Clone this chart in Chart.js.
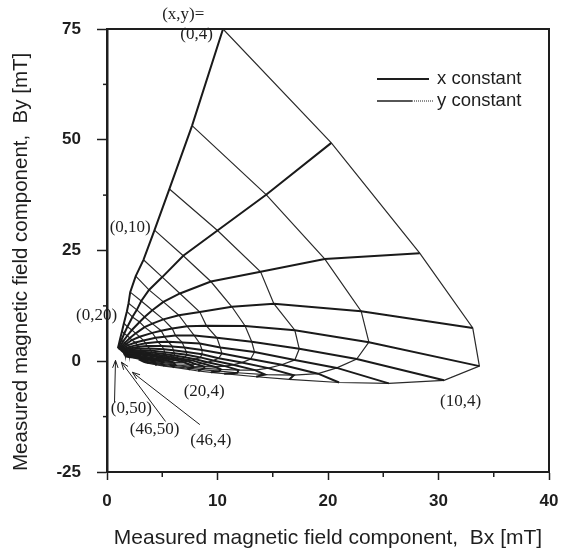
<!DOCTYPE html>
<html>
<head>
<meta charset="utf-8">
<script src="https://cdn.jsdelivr.net/npm/chart.js@4.4.1/dist/chart.umd.min.js"></script>
<style>
  html, body { margin: 0; padding: 0; background: #fff; }
  #contenedor { width: 561px; height: 556px; }
</style>
</head>
<body>
<div id="contenedor"><canvas id="grafica" width="561" height="556"></canvas></div>
<script>
// posiciones del iman (x, y): una linea gruesa por cada x, una fina por cada y
const posicionesX = [0, 2, 4, 6, 8, 10, 12, 14, 16, 18, 20, 22, 24, 26, 30, 34, 38, 42, 46];
const posicionesY = [4, 6, 8, 10, 12, 14, 16, 18, 20, 24, 28, 34, 42, 50];

// Bx y By medidos [mT] para cada y, en el orden de posicionesX
const bxY4  = [10.5, 20.3, 28.3, 33.1, 33.7, 30.5, 25.5, 21.0, 16.5, 13.5, 10.6, 9.4, 8.25, 7.5, 6.1, 5.2, 4.5, 3.95, 3.55];
const byY4  = [75.0, 49.3, 24.4, 7.5, -1.1, -4.3, -5.0, -4.8, -4.1, -3.5, -2.8, -2.5, -2.2, -1.9, -1.4, -1.08, -0.8, -0.55, -0.37];
const bxY6  = [7.7, 14.4, 19.7, 23.0, 23.7, 22.6, 20.8, 19.1, 16.9, 14.3, 11.8, 10.15, 8.5, 7.35, 6.0, 5.15, 4.45, 3.95, 3.55];
const byY6  = [53.2, 37.6, 23.1, 11.3, 4.3, 0.5, -1.5, -2.8, -3.15, -3.0, -2.6, -2.25, -1.9, -1.57, -1.2, -0.92, -0.67, -0.48, -0.32];
const bxY8  = [5.65, 10.0, 13.9, 15.1, 17.0, 17.4, 17.0, 15.8, 14.6, 13.4, 11.9, 10.3, 8.8, 7.8, 5.8, 5.0, 4.35, 3.8, 3.4];
const byY8  = [38.9, 29.5, 20.2, 13.0, 7.0, 2.8, 0.3, -0.8, -1.55, -2.0, -2.0, -1.85, -1.6, -1.4, -0.9, -0.72, -0.5, -0.34, -0.2];
const bxY10 = [4.3, 6.9, 9.4, 11.3, 12.5, 13.1, 13.35, 13.0, 12.2, 11.4, 10.7, 9.8, 8.8, 7.8, 6.2, 4.9, 4.2, 3.65, 3.3];
const byY10 = [29.6, 23.8, 18.0, 12.3, 7.95, 4.4, 2.1, 0.5, -0.3, -0.8, -1.1, -1.28, -1.2, -1.13, -0.85, -0.53, -0.35, -0.22, -0.1];
const bxY12 = [3.3, 5.0, 6.6, 8.4, 9.0, 9.95, 10.25, 10.4, 10.1, 9.6, 9.1, 8.6, 8.1, 7.4, 6.1, 5.0, 4.1, 3.5, 3.2];
const byY12 = [22.9, 19.0, 15.3, 11.1, 8.0, 5.3, 3.1, 1.74, 0.67, 0.15, -0.24, -0.48, -0.7, -0.68, -0.56, -0.38, -0.2, -0.04, 0.04];
const bxY14 = [2.6, 3.8, 5.1, 6.5, 7.25, 7.9, 8.4, 8.6, 8.6, 8.45, 8.0, 7.7, 7.3, 6.95, 6.05, 5.1, 4.3, 3.65, 3.1];
const byY14 = [19.2, 16.1, 13.4, 10.4, 7.9, 5.8, 4.0, 2.55, 1.6, 0.87, 0.47, 0.19, 0.0, -0.2, -0.3, -0.2, -0.1, 0.05, 0.17];
const bxY16 = [2.1, 3.1, 4.1, 5.1, 5.9, 6.2, 6.8, 7.0, 7.2, 7.2, 7.05, 6.75, 6.5, 6.2, 5.7, 4.95, 4.25, 3.65, 3.2];
const byY16 = [15.6, 13.6, 11.5, 9.45, 7.4, 5.8, 4.26, 3.1, 2.07, 1.45, 0.9, 0.58, 0.4, 0.2, 0.0, -0.04, 0.03, 0.12, 0.2];
const bxY18 = [1.95, 2.7, 3.4, 4.1, 4.9, 5.2, 5.55, 5.9, 6.0, 6.1, 6.1, 6.0, 5.75, 5.55, 5.15, 4.7, 4.2, 3.65, 3.2];
const byY18 = [13.1, 11.6, 10.0, 8.5, 6.9, 5.55, 4.4, 3.35, 2.5, 1.8, 1.3, 0.91, 0.68, 0.53, 0.27, 0.13, 0.14, 0.2, 0.27];
const bxY20 = [1.8, 2.3, 2.95, 3.4, 4.1, 4.4, 4.6, 4.95, 5.15, 5.2, 5.3, 5.25, 5.2, 5.0, 4.7, 4.4, 4.0, 3.6, 3.2];
const byY20 = [11.25, 10.0, 8.85, 7.7, 6.4, 5.3, 4.35, 3.47, 2.73, 2.06, 1.6, 1.24, 0.92, 0.74, 0.49, 0.34, 0.27, 0.28, 0.33];
const bxY24 = [1.53, 1.85, 2.25, 2.6, 2.95, 3.3, 3.5, 3.6, 3.85, 3.95, 4.05, 4.1, 4.1, 4.1, 3.9, 3.75, 3.5, 3.3, 3.05];
const byY24 = [8.57, 7.8, 7.05, 6.3, 5.54, 4.7, 4.05, 3.47, 2.9, 2.42, 2.0, 1.61, 1.37, 1.15, 0.83, 0.67, 0.55, 0.46, 0.46];
const bxY28 = [1.36, 1.56, 1.83, 2.07, 2.25, 2.56, 2.76, 2.87, 2.93, 3.1, 3.2, 3.25, 3.28, 3.3, 3.3, 3.2, 3.06, 2.93, 2.8];
const byY28 = [6.77, 6.26, 5.76, 5.25, 4.79, 4.22, 3.7, 3.28, 2.88, 2.51, 2.17, 1.88, 1.6, 1.39, 1.09, 0.88, 0.77, 0.68, 0.62];
const bxY34 = [1.19, 1.31, 1.46, 1.63, 1.75, 1.88, 2.05, 2.17, 2.25, 2.3, 2.36, 2.45, 2.5, 2.55, 2.57, 2.58, 2.54, 2.46, 2.38];
const byY34 = [5.08, 4.77, 4.48, 4.17, 3.88, 3.6, 3.24, 2.94, 2.68, 2.45, 2.22, 2.0, 1.8, 1.64, 1.33, 1.13, 0.97, 0.88, 0.83];
const bxY42 = [1.07, 1.13, 1.22, 1.31, 1.39, 1.46, 1.53, 1.63, 1.71, 1.76, 1.8, 1.82, 1.86, 1.92, 1.97, 2.0, 2.02, 2.02, 1.99];
const byY42 = [3.79, 3.61, 3.45, 3.28, 3.1, 2.94, 2.78, 2.59, 2.4, 2.24, 2.11, 1.97, 1.85, 1.72, 1.51, 1.31, 1.17, 1.07, 0.98];
const bxY50 = [0.99, 1.03, 1.08, 1.14, 1.19, 1.24, 1.28, 1.32, 1.38, 1.44, 1.47, 1.5, 1.52, 1.53, 1.58, 1.63, 1.65, 1.66, 1.66];
const byY50 = [2.99, 2.89, 2.78, 2.68, 2.57, 2.48, 2.38, 2.28, 2.16, 2.04, 1.95, 1.85, 1.77, 1.69, 1.54, 1.4, 1.28, 1.17, 1.1];

const filasBx = [bxY4, bxY6, bxY8, bxY10, bxY12, bxY14, bxY16, bxY18, bxY20, bxY24, bxY28, bxY34, bxY42, bxY50];
const filasBy = [byY4, byY6, byY8, byY10, byY12, byY14, byY16, byY18, byY20, byY24, byY28, byY34, byY42, byY50];

// etiquetas de los ejes
const ticksX = [0, 10, 20, 30, 40];
const ticksY = [-25, 0, 25, 50, 75];

// notas sobre la grafica (en mT)
const notas = [
  { texto: '(x,y)=', bx: 6.9, by: 78.3 },
  { texto: '(0,4)', bx: 8.1, by: 73.8 },
  { texto: '(0,10)', bx: 2.1, by: 30.1 },
  { texto: '(0,20)', bx: -0.95, by: 10.4 },
  { texto: '(0,50)', bx: 2.2, by: -10.6 },
  { texto: '(46,50)', bx: 4.3, by: -15.4 },
  { texto: '(46,4)', bx: 9.4, by: -17.9 },
  { texto: '(20,4)', bx: 8.8, by: -6.8 },
  { texto: '(10,4)', bx: 32.0, by: -9.0 }
];
const flechas = [
  { desde: [0.68, -9.3], hasta: [0.77, 0.2] },
  { desde: [5.3, -13.6], hasta: [1.3, -0.2] },
  { desde: [8.4, -14.3], hasta: [2.3, -2.5] }
];

const negro = '#1e1e1e';
const datasets = [];

// lineas con x constante (gruesas)
posicionesX.forEach((x, i) => {
  datasets.push({
    label: 'x=' + x,
    data: posicionesY.map((y, j) => ({ x: filasBx[j][i], y: filasBy[j][i] })),
    showLine: true,
    borderColor: '#1a1a1a',
    borderWidth: 2,
    pointRadius: 0,
    tension: 0
  });
});

// lineas con y constante (finas)
posicionesY.forEach((y, j) => {
  datasets.push({
    label: 'y=' + y,
    data: posicionesX.map((x, i) => ({ x: filasBx[j][i], y: filasBy[j][i] })),
    showLine: true,
    borderColor: '#2a2a2a',
    borderWidth: 1.2,
    pointRadius: 0,
    tension: 0
  });
});

const extras = {
  id: 'extras',
  afterDraw(chart) {
    const { ctx, chartArea: a, scales: { x, y } } = chart;
    ctx.save();

    // marco superior y derecho
    ctx.strokeStyle = negro;
    ctx.lineWidth = 2;
    ctx.beginPath();
    ctx.moveTo(a.left, a.top);
    ctx.lineTo(a.right, a.top);
    ctx.lineTo(a.right, a.bottom);
    ctx.stroke();

    // marcas menores
    ctx.lineWidth = 1.5;
    [-12.5, 12.5, 37.5, 62.5].forEach(v => {
      const py = y.getPixelForValue(v);
      ctx.beginPath();
      ctx.moveTo(a.left - 4, py);
      ctx.lineTo(a.left, py);
      ctx.stroke();
    });
    [5, 15, 25, 35].forEach(v => {
      const px = x.getPixelForValue(v);
      ctx.beginPath();
      ctx.moveTo(px, a.bottom);
      ctx.lineTo(px, a.bottom + 5);
      ctx.stroke();
    });

    // notas
    ctx.fillStyle = negro;
    ctx.font = '17px "Liberation Serif"';
    ctx.textAlign = 'center';
    ctx.textBaseline = 'middle';
    notas.forEach(n => {
      ctx.fillText(n.texto, x.getPixelForValue(n.bx), y.getPixelForValue(n.by));
    });

    // flechas
    ctx.lineWidth = 1;
    flechas.forEach(f => {
      const x0 = x.getPixelForValue(f.desde[0]), y0 = y.getPixelForValue(f.desde[1]);
      const x1 = x.getPixelForValue(f.hasta[0]), y1 = y.getPixelForValue(f.hasta[1]);
      const ang = Math.atan2(y1 - y0, x1 - x0);
      ctx.beginPath();
      ctx.moveTo(x0, y0);
      ctx.lineTo(x1, y1);
      ctx.moveTo(x1 - 8 * Math.cos(ang - 0.35), y1 - 8 * Math.sin(ang - 0.35));
      ctx.lineTo(x1, y1);
      ctx.lineTo(x1 - 8 * Math.cos(ang + 0.35), y1 - 8 * Math.sin(ang + 0.35));
      ctx.stroke();
    });

    // leyenda
    ctx.font = '18.5px "Liberation Sans"';
    ctx.textAlign = 'left';
    ctx.lineWidth = 1.8;
    ctx.beginPath();
    ctx.moveTo(377, 79);
    ctx.lineTo(429, 79);
    ctx.stroke();
    ctx.fillText('x constant', 437, 79);
    ctx.lineWidth = 1.4;
    ctx.beginPath();
    ctx.moveTo(377, 101);
    ctx.lineTo(412, 101);
    ctx.stroke();
    ctx.setLineDash([1, 1]);
    ctx.lineWidth = 1;
    ctx.beginPath();
    ctx.moveTo(412, 101);
    ctx.lineTo(434, 101);
    ctx.stroke();
    ctx.setLineDash([]);
    ctx.fillText('y constant', 437, 101);

    ctx.restore();
  }
};

new Chart(document.getElementById('grafica'), {
  type: 'scatter',
  data: { datasets },
  options: {
    responsive: false,
    animation: false,
    devicePixelRatio: 1,
    layout: { padding: { left: 0, right: 12, top: 29, bottom: 0 } },
    plugins: { legend: { display: false }, tooltip: { enabled: false } },
    scales: {
      x: {
        type: 'linear',
        min: 0,
        max: 40,
        ticks: {
          stepSize: 10,
          autoSkip: false,
          maxRotation: 0,
          padding: 11,
          color: negro,
          font: { family: 'Liberation Sans', size: 17, weight: 'bold' },
          callback: v => ticksX.includes(v) ? String(v) : ''
        },
        grid: { drawOnChartArea: false, tickLength: 8, tickWidth: 1.5, tickColor: negro },
        border: { color: negro, width: 2 },
        title: {
          display: true,
          text: 'Measured magnetic field component,  Bx [mT]',
          color: negro,
          font: { family: 'Liberation Sans', size: 21 },
          padding: { top: 0, bottom: 5 }
        },
        afterFit: s => { s.height = 84; s.paddingLeft = 0; s.paddingRight = 0; }
      },
      y: {
        type: 'linear',
        min: -25,
        max: 75,
        ticks: {
          stepSize: 25,
          autoSkip: false,
          padding: 16,
          color: negro,
          font: { family: 'Liberation Sans', size: 17, weight: 'bold' },
          callback: v => ticksY.includes(v) ? String(v) : ''
        },
        grid: { drawOnChartArea: false, tickLength: 10, tickWidth: 1.5, tickColor: negro },
        border: { color: negro, width: 2.5 },
        title: {
          display: true,
          text: 'Measured magnetic field component,  By [mT]    ',
          color: negro,
          font: { family: 'Liberation Sans', size: 20.5 },
          padding: { top: 9.5, bottom: 0 }
        },
        afterFit: s => { s.width = 107; s.paddingTop = 0; s.paddingBottom = 0; }
      }
    }
  },
  plugins: [extras]
});
</script>
</body>
</html>
